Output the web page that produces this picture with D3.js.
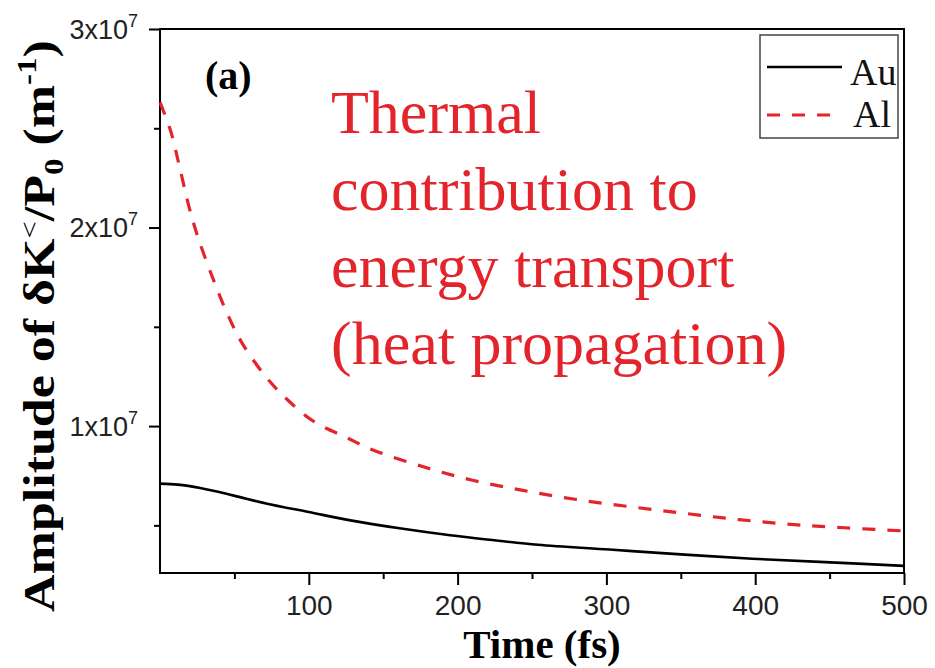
<!DOCTYPE html>
<html>
<head>
<meta charset="utf-8">
<script src="https://cdn.jsdelivr.net/npm/d3@7"></script>
<style>
  body { margin: 0; background: #fff; }
  .axis path, .axis line { stroke: #000; stroke-width: 2; }
  .axis text { font-family: "Liberation Sans", Arial, sans-serif; fill: #222; }
</style>
</head>
<body>
<div id="chart"></div>
<script>

// data (time in fs, amplitude in m^-1)
var timeAu = [0, 12, 27, 49, 72, 100, 128, 161, 195, 226, 254, 302, 350, 398, 447, 500];
var valAu  = [7.10e6, 7.05e6, 6.88e6, 6.51e6, 6.09e6, 5.67e6, 5.25e6, 4.85e6, 4.50e6, 4.24e6, 4.02e6, 3.78e6, 3.54e6, 3.32e6, 3.15e6, 2.96e6];

var timeAl = [0, 7, 13, 20, 26, 36, 45, 55, 71, 86, 104, 126, 143, 177, 210, 244, 280, 318, 354, 389, 424, 460, 500];
var valAl  = [26.3e6, 24.9e6, 23.1e6, 20.9e6, 19.4e6, 17.35e6, 15.7e6, 14.2e6, 12.5e6, 11.3e6, 10.2e6, 9.4e6, 8.8e6, 7.95e6, 7.27e6, 6.76e6, 6.3e6, 5.92e6, 5.59e6, 5.29e6, 5.05e6, 4.88e6, 4.72e6];

var xMajor = [100, 200, 300, 400, 500];
var xMinor = [50, 150, 250, 350, 450];
var yMajor = [1e7, 2e7, 3e7];
var yMinor = [5e6, 1.5e7, 2.5e7];

var seriesNames = ["Au", "Al"];
var noteLines = ["Thermal", "contribution to", "energy transport", "(heat propagation)"];

var red = "#e3242b";

var width = 935, height = 668;
var margin = { top: 29, right: 31, bottom: 95, left: 160 };

var svg = d3.select("#chart")
    .append("svg")
    .attr("width", width)
    .attr("height", height);

var x = d3.scaleLinear().domain([0, 500]).range([margin.left, width - margin.right]);
var y = d3.scaleLinear().domain([2.6e6, 3e7]).range([height - margin.bottom, margin.top]);

var x0 = x.range()[0], x1 = x.range()[1], yb = y.range()[0], yt = y.range()[1];

// frame
svg.append("rect")
    .attr("x", x0).attr("y", yt)
    .attr("width", x1 - x0).attr("height", yb - yt)
    .attr("fill", "none").attr("stroke", "#000").attr("stroke-width", 2);

// x axis
svg.append("g")
    .attr("class", "axis")
    .attr("transform", "translate(0," + yb + ")")
    .call(d3.axisBottom(x).tickValues(xMinor).tickSize(6).tickFormat(""))
    .select(".domain").remove();

var gx = svg.append("g")
    .attr("class", "axis")
    .attr("transform", "translate(0," + yb + ")")
    .call(d3.axisBottom(x).tickValues(xMajor).tickSize(12).tickPadding(10).tickFormat(d3.format("d")));
gx.select(".domain").remove();
gx.selectAll("text").style("font-size", "28px");

// y axis
svg.append("g")
    .attr("class", "axis")
    .attr("transform", "translate(" + x0 + ",0)")
    .call(d3.axisLeft(y).tickValues(yMinor).tickSize(6).tickFormat(""))
    .select(".domain").remove();

var gy = svg.append("g")
    .attr("class", "axis")
    .attr("transform", "translate(" + x0 + ",0)")
    .call(d3.axisLeft(y).tickValues(yMajor).tickSize(11).tickPadding(11).tickFormat(""));
gy.select(".domain").remove();

gy.selectAll(".tick text")
    .attr("dy", null)
    .attr("y", 9)
    .style("font-size", "27px")
    .each(function (d) {
        var t = d3.select(this);
        t.append("tspan").text(Math.round(d / 1e7) + "x10");
        t.append("tspan").text("7").attr("dy", -12).style("font-size", "18px");
    });

// curves
var line = d3.line()
    .x(function (d) { return x(d[0]); })
    .y(function (d) { return y(d[1]); })
    .curve(d3.curveCatmullRom.alpha(0.5));

svg.append("path")
    .datum(d3.zip(timeAl, valAl))
    .attr("d", line)
    .attr("fill", "none")
    .attr("stroke", red)
    .attr("stroke-width", 3.2)
    .attr("stroke-dasharray", "13,12");

svg.append("path")
    .datum(d3.zip(timeAu, valAu))
    .attr("d", line)
    .attr("fill", "none")
    .attr("stroke", "#000")
    .attr("stroke-width", 2.6);

// panel label
svg.append("text")
    .attr("x", 205).attr("y", 89)
    .style("font-family", "'Liberation Serif', 'Times New Roman', serif")
    .style("font-weight", "bold")
    .style("font-size", "40px")
    .text("(a)");

// red note
svg.append("g")
    .selectAll(".note")
    .data(noteLines)
    .enter()
    .append("text")
    .attr("class", "note")
    .attr("x", 331)
    .attr("y", function (d, i) { return 133 + i * 77; })
    .style("font-family", "'Liberation Serif', 'Times New Roman', serif")
    .style("font-size", "62px")
    .style("fill", red)
    .text(function (d) { return d; });

// legend
var legend = svg.append("g");
legend.append("rect")
    .attr("x", 760).attr("y", 35).attr("width", 138).attr("height", 103)
    .attr("fill", "#fff").attr("stroke", "#444").attr("stroke-width", 1.5);

legend.selectAll(".lg-line")
    .data(seriesNames)
    .enter()
    .append("line")
    .attr("x1", 767)
    .attr("x2", function (d, i) { return i === 0 ? 842 : 832; })
    .attr("y1", function (d, i) { return 67 + i * 48; })
    .attr("y2", function (d, i) { return 67 + i * 48; })
    .attr("stroke", function (d, i) { return i === 0 ? "#000" : red; })
    .attr("stroke-width", function (d, i) { return i === 0 ? 2.6 : 3.2; })
    .attr("stroke-dasharray", function (d, i) { return i === 0 ? null : "13,12"; });

legend.selectAll(".lg-text")
    .data(seriesNames)
    .enter()
    .append("text")
    .attr("x", function (d, i) { return i === 0 ? 850 : 853; })
    .attr("y", function (d, i) { return 85 + i * 42; })
    .style("font-family", "'Liberation Serif', 'Times New Roman', serif")
    .style("font-size", "38px")
    .style("fill", "#111")
    .text(function (d) { return d; });

// x label
svg.append("text")
    .attr("x", 542).attr("y", 658)
    .attr("text-anchor", "middle")
    .style("font-family", "'Liberation Serif', 'Times New Roman', serif")
    .style("font-weight", "bold")
    .style("font-size", "41px")
    .text("Time (fs)");

// y label
var yl = svg.append("text")
    .attr("text-anchor", "middle")
    .style("font-family", "'Liberation Serif', 'Times New Roman', serif")
    .style("font-weight", "bold")
    .style("font-size", "44px");
yl.append("tspan").text("Amplitude of \u03B4K");
yl.append("tspan").text("<").attr("dy", -16).style("font-size", "26px").style("font-weight", "normal");
yl.append("tspan").text("/P").attr("dy", 16);
yl.append("tspan").text("0").attr("dy", 9).style("font-size", "28px");
yl.append("tspan").text(" (m").attr("dy", -9);
yl.append("tspan").text("-1").attr("dy", -18).style("font-size", "28px");
yl.append("tspan").text(")").attr("dy", 18);

var len = yl.node().getComputedTextLength();
var k = 572 / len;
yl.attr("transform", "translate(54,326) rotate(-90) scale(" + k + ",1)");

</script>
</body>
</html>
